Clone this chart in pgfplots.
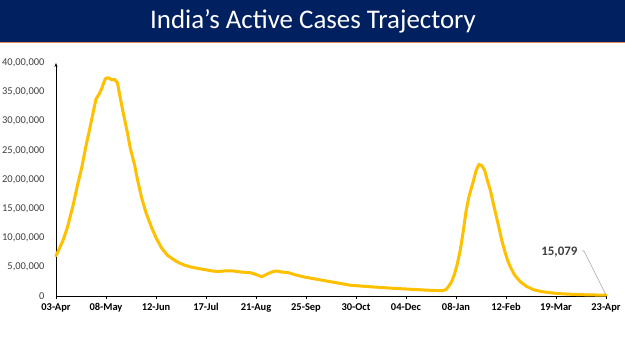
\documentclass[border=0pt]{standalone}
\usepackage{fontspec}
\setmainfont{Carlito}
\usepackage{pgfplots}
\pgfplotsset{compat=1.18}
\usetikzlibrary{arrows.meta}
\definecolor{navy}{RGB}{0,32,96}
\definecolor{gold}{RGB}{255,192,0}
\definecolor{salmon}{RGB}{226,138,100}
\definecolor{labgray}{RGB}{64,64,64}
\begin{document}
\begin{tikzpicture}[x=1bp,y=1bp]
\useasboundingbox (0,0) rectangle (625,351);
\fill[white] (0,0) rectangle (625,351);
\fill[navy] (0,309) rectangle (625,351);
\draw[salmon, line width=1.3bp] (0,308.4) -- (625,308.4);
\node[white, font=\fontsize{27}{30}\selectfont] at (313,330) {India’s Active Cases Trajectory};
\begin{axis}[
  at={(56bp,55bp)}, anchor=south west,
  scale only axis, width=550bp, height=233bp,
  xmin=0, xmax=385, ymin=0, ymax=4000000,
  scaled y ticks=false,
  axis x line*=bottom, axis y line*=left,
  x axis line style={-, black, line width=0.8bp},
  y axis line style={-{Stealth[length=4bp,width=3bp]}, black, line width=0.8bp},
  xtick={0,35,70,105,140,175,210,245,280,315,350,385},
  xticklabels={03-Apr,08-May,12-Jun,17-Jul,21-Aug,25-Sep,30-Oct,04-Dec,08-Jan,12-Feb,19-Mar,23-Apr},
  ytick={0,500000,1000000,1500000,2000000,2500000,3000000,3500000,4000000},
  yticklabels={0,{5,00,000},{10,00,000},{15,00,000},{20,00,000},{25,00,000},{30,00,000},{35,00,000},{40,00,000}},
  x tick label style={font=\bfseries\fontsize{10.5}{12}\selectfont, black, yshift=-1bp},
  y tick label style={font=\fontsize{10.5}{12}\selectfont, labgray, xshift=-5bp},
  xtick style={black, line width=0.8bp},
  tick align=outside,
  xtick pos=bottom, ytick pos=left,
  major tick length=3bp,
  ytick style={draw=none},
  clip=false,
]
\addplot[gold, line width=3bp, line join=round, line cap=round] coordinates {
(0,690000) (3,850000) (5,960000) (8,1180000) (12,1560000) (15,1900000)
(18,2200000) (21,2580000) (23,2800000) (26,3150000) (28,3380000) (30,3460000)
(32,3560000) (34,3700000) (35,3740000) (37,3745000) (39,3710000) (41,3720000)
(43,3660000) (45,3400000) (47,3150000) (50,2800000) (52,2540000) (55,2250000)
(57,2000000) (60,1680000) (63,1430000) (67,1170000) (70,1000000) (74,820000)
(78,700000) (82,630000) (86,570000) (90,530000) (94,500000) (100,470000)
(105,450000) (108,435000) (113,420000) (118,430000) (124,430000) (130,410000)
(136,400000) (140,370000) (144,330000) (148,380000) (152,420000) (155,430000)
(158,410000) (162,405000) (168,360000) (175,320000) (182,290000) (190,255000)
(198,220000) (206,185000) (214,170000) (222,155000) (234,135000) (245,120000)
(256,105000) (265,95000) (270,90000) (273,110000) (275,170000) (277,250000)
(279,380000) (281,560000) (283,790000) (285,1100000) (287,1450000) (289,1700000)
(292,1960000) (294,2150000) (296,2260000) (298,2240000) (300,2160000) (302,1980000)
(304,1820000) (306,1600000) (308,1390000) (310,1180000) (312,960000) (314,780000)
(316,620000) (318,500000) (321,360000) (325,245000) (329,170000) (334,110000)
(340,75000) (348,50000) (356,35000) (365,25000) (375,18000) (385,15079)
};
\draw[black!35, line width=0.6bp] (axis cs:368.2,773000) -- (axis cs:369.6,773000) -- (axis cs:385,15079);
\node[font=\bfseries\fontsize{13}{15}\selectfont, labgray, anchor=east] at (axis cs:367.5,747000) {15,079};
\end{axis}
\end{tikzpicture}
\end{document}
